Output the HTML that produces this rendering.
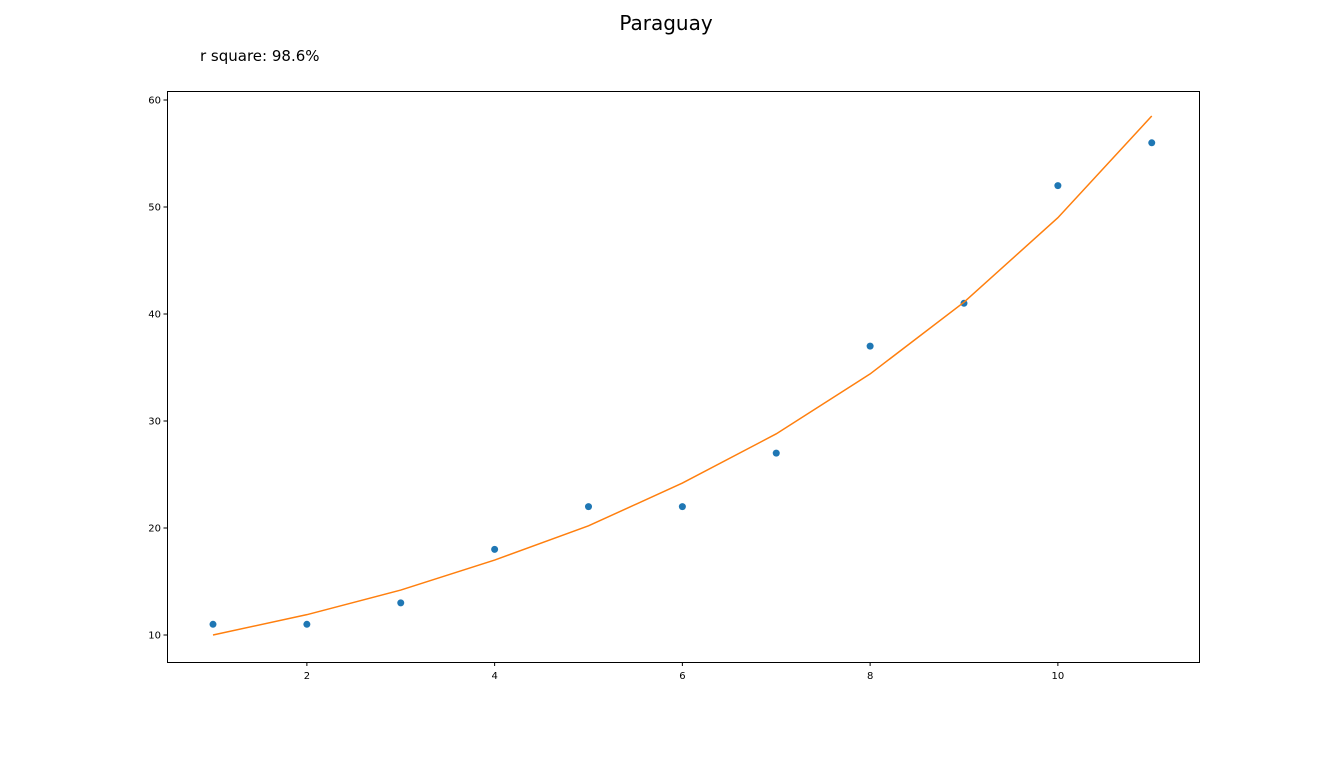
<!DOCTYPE html>
<html><head><meta charset="utf-8"><style>
body{margin:0;background:#fff;width:1332px;height:756px;overflow:hidden;font-family:"Liberation Sans","DejaVu Sans",sans-serif}
</style></head><body>
<svg id="chart" width="1332" height="756" xmlns="http://www.w3.org/2000/svg">
<text x="666" y="30" font-size="20" text-anchor="middle" font-family="DejaVu Sans, Liberation Sans, sans-serif">Paraguay</text>
<text x="200" y="61" font-size="15" font-family="DejaVu Sans, Liberation Sans, sans-serif">r square: 98.6%</text>
<g id="plot"></g>
</svg>
<script>
const xs=[1,2,3,4,5,6,7,8,9,10,11];
const actual=[11,11,13,18,22,22,27,37,41,52,56];
const fitted=[10.0,11.9,14.2,17.0,20.2,24.2,28.8,34.4,41.1,49.0,58.5];
const xTicks=[2,4,6,8,10];
const yTicks=[10,20,30,40,50,60];
const L=167,R=1199,T=91,B=662;
function sx(v){return 213+(v-1)*93.875;}
function sy(v){return 635-(v-10)*10.7;}
const NS="http://www.w3.org/2000/svg";
const g=document.getElementById('plot');
function mk(t,a){const e=document.createElementNS(NS,t);for(const k in a)e.setAttribute(k,a[k]);g.appendChild(e);return e;}
const frame=mk('rect',{x:L+0.5,y:T+0.5,width:R-L,height:B-T,fill:'none',stroke:'#000','stroke-width':1});


xTicks.forEach(v=>{
  const l=mk('line',{x1:sx(v),x2:sx(v),y1:B+0.5,y2:B+4,stroke:'#000'});
  
  
  const t=mk('text',{x:sx(v),y:B+17,'font-size':10,'text-anchor':'middle','font-family':'DejaVu Sans, Liberation Sans, sans-serif'});
  t.textContent=v;
  
  
});
yTicks.forEach(v=>{
  const l=mk('line',{x1:L-3.5,x2:L+0.5,y1:sy(v),y2:sy(v),stroke:'#000'});
  
  
  const t=mk('text',{x:L-6,y:sy(v)+3.5,'font-size':10,'text-anchor':'end','font-family':'DejaVu Sans, Liberation Sans, sans-serif'});
  t.textContent=v;
  
  
});
xs.forEach((x,i)=>{
  const c=mk('circle',{cx:sx(x),cy:sy(actual[i]),r:3.5,fill:'#1f77b4'});
  
  
});
const line=mk('polyline',{points:xs.map((x,i)=>sx(x)+','+sy(fitted[i])).join(' '),fill:'none',stroke:'#ff7f0e','stroke-width':1.5});


</script>
</body></html>
